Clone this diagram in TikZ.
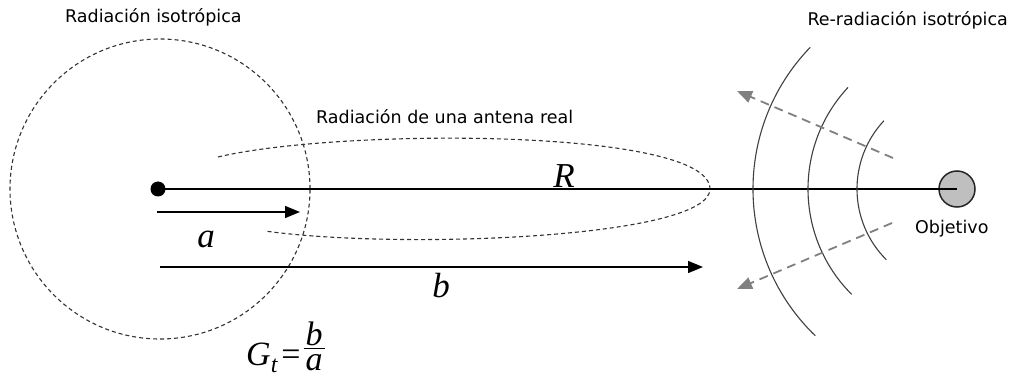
\documentclass[tikz,border=0pt]{standalone}
\usepackage{fontspec}
\setmainfont{DejaVu Sans}
\newfontfamily\tmsfont{Liberation Serif}
\newcommand{\tmsit}{\tmsfont\itshape}
\usetikzlibrary{arrows.meta}
\begin{document}
\begin{tikzpicture}[x=1pt,y=1pt,
  lbl/.style={font=\fontsize{17.5}{20}\selectfont, inner sep=0pt, text=black},
  mathlbl/.style={font=\fontsize{35}{37}\selectfont\tmsit, inner sep=0pt},
  eqlbl/.style={font=\fontsize{34}{36}\selectfont, inner sep=0pt},
  dashcurve/.style={draw=black!80, line width=1.1pt, dash pattern=on 4pt off 3pt},
  wave/.style={draw=black!75, line width=1.1pt},
  blackarrow/.style={line width=1.4pt, -{Triangle[length=15pt,width=12pt]}},
  grayarrow/.style={draw=black!50, line width=1.8pt, dash pattern=on 9pt off 6pt, -{Triangle[length=15pt,width=12pt,fill=black!50]}}
]
\useasboundingbox (0,0) rectangle (1021,378);
\fill[white] (0,0) rectangle (1021,378);

% isotropic circle
\draw[dashcurve] (160,189) circle[radius=150pt];

% real antenna lobe
\draw[dashcurve] (218,221) .. controls (340,250) and (710,250) .. (710,189)
  .. controls (710,140) and (400,128) .. (265,147);

% target and source
\node[circle, draw=black!85, line width=1.5pt, fill=black!25, minimum size=36pt, inner sep=0pt] (tgt) at (957,189) {};
\node[circle, fill=black, minimum size=15pt, inner sep=0pt] (src) at (158,189) {};
\draw[line width=2.2pt] (src.center) -- (tgt.center);

% wave fronts
\draw[wave] (tgt.center) ++(136:204pt) arc[start angle=136, end angle=226, radius=204pt];
\draw[wave] (tgt.center) ++(137:149pt) arc[start angle=137, end angle=225, radius=149pt];
\draw[wave] (tgt.center) ++(137:100pt) arc[start angle=137, end angle=225, radius=100pt];

% arrows a and b
\coordinate (a0) at (157,166);
\coordinate (a1) at (300,166);
\coordinate (b0) at (160,111);
\coordinate (b1) at (703,111);
\draw[blackarrow] (a0) -- (a1);
\draw[blackarrow] (b0) -- (b1);

% reradiation arrows
\coordinate (u0) at (893,220);
\coordinate (u1) at (737,287);
\coordinate (d0) at (892,155);
\coordinate (d1) at (737,89);
\draw[grayarrow] (u0) -- (u1);
\draw[grayarrow] (d0) -- (d1);

% math labels
\node[mathlbl] (la) at (206,139) {a};
\node[mathlbl, anchor=base] (lb) at (441,81) {b};
\node[mathlbl, anchor=base] (lR) at (564,190) {R};
\node[eqlbl, anchor=base west] (lG) at (246,13) {{\tmsit G}\raisebox{-7pt}{\fontsize{24}{25}\selectfont\tmsit t}\hspace{4pt}{\tmsfont =}\hspace{3pt}\lower6pt\vbox{\hbox{\kern2pt\tmsit b\kern2pt}\kern2pt\hrule height 1.3pt\kern6pt\hbox{\kern2pt\tmsit a\kern2pt}}};

% text labels
\node[lbl, anchor=west] (t1) at (65,361) {Radiación isotrópica};
\node[lbl, anchor=east] (t2) at (1008,358) {Re-radiación isotrópica};
\node[lbl, anchor=west] (t3) at (316,261) {Radiación de una antena real};
\node[lbl, anchor=west] (t4) at (915,149) {Objetivo};
\end{tikzpicture}
\end{document}
